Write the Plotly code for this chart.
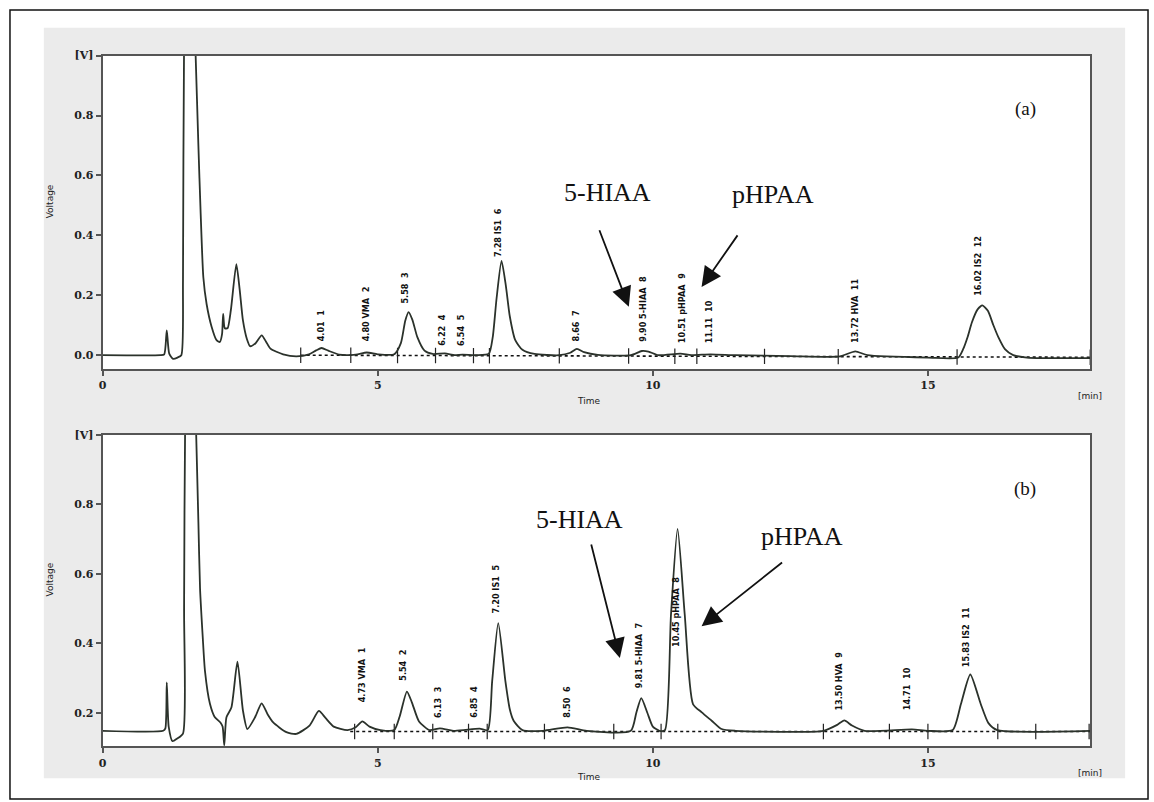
import plotly.graph_objects as go

W, H = 1154, 802

# ---------------- data ----------------
# panel (a): time [min] and detector voltage [V]
time_a = [0, 1.05, 1.12, 1.165, 1.21, 1.28, 1.36, 1.43, 1.46, 1.48, 1.58, 1.69, 1.74, 1.78,
          1.83, 1.89, 1.98, 2.07, 2.13, 2.17, 2.19, 2.22, 2.27, 2.33, 2.43, 2.49, 2.55, 2.62,
          2.68, 2.78, 2.89, 2.97, 3.05, 3.28, 3.52, 3.75, 3.88, 3.98, 4.10, 4.30, 4.60, 4.80,
          5.00, 5.30, 5.42, 5.50, 5.56, 5.63, 5.72, 5.85, 6.00, 6.22, 6.40, 6.54, 6.80, 7.02,
          7.09, 7.16, 7.25, 7.33, 7.40, 7.50, 7.63, 7.85, 8.30, 8.50, 8.62, 8.75, 9.00, 9.60,
          9.80, 9.92, 10.10, 10.50, 10.70, 11.05, 11.50, 12.50, 13.40, 13.68, 13.90, 15.00,
          15.55, 15.64, 15.72, 15.80, 15.90, 15.99, 16.09, 16.19, 16.28, 16.40, 16.55, 16.80, 17.95]
volt_a = [0.0, 0.0, 0.003, 0.083, 0.005, -0.012, -0.008, 0.0, 0.25, 1.05, 1.6, 1.0, 0.70, 0.48,
          0.26, 0.17, 0.095, 0.05, 0.044, 0.07, 0.138, 0.09, 0.09, 0.15, 0.304, 0.22, 0.116, 0.055,
          0.03, 0.04, 0.066, 0.045, 0.022, 0.003, -0.004, 0.003, 0.016, 0.024, 0.015, 0.002, 0.002, 0.009,
          0.003, 0.003, 0.04, 0.115, 0.144, 0.118, 0.06, 0.015, 0.004, 0.006, 0.0, 0.002, 0.0, 0.005,
          0.06, 0.19, 0.315, 0.23, 0.13, 0.05, 0.018, 0.004, 0.0, 0.008, 0.021, 0.01, 0.001, 0.0,
          0.014, 0.012, 0.0, 0.005, 0.0, 0.003, 0.0, -0.003, -0.004, 0.013, 0.0, -0.008,
          -0.008, 0.02, 0.06, 0.11, 0.152, 0.166, 0.148, 0.10, 0.06, 0.02, 0.0, -0.008, -0.01]

# panel (b)
time_b = [0, 1.10, 1.14, 1.165, 1.20, 1.27, 1.35, 1.46, 1.48, 1.50, 1.60, 1.70, 1.74, 1.77,
          1.82, 1.86, 1.95, 2.04, 2.14, 2.18, 2.21, 2.25, 2.34, 2.45, 2.55, 2.63, 2.77, 2.89,
          3.00, 3.10, 3.34, 3.52, 3.76, 3.93, 4.05, 4.20, 4.45, 4.60, 4.72, 4.85, 5.05, 5.30,
          5.40, 5.53, 5.62, 5.75, 5.94, 6.13, 6.40, 6.85, 7.00, 7.08, 7.19, 7.32, 7.40, 7.47,
          7.63, 8.00, 8.45, 8.80, 9.60, 9.70, 9.79, 9.90, 10.00, 10.12, 10.22, 10.33, 10.45,
          10.58, 10.73, 10.89, 11.07, 11.25, 11.50, 13.10, 13.35, 13.48, 13.62, 13.85, 14.71,
          15.00, 15.45, 15.60, 15.77, 15.96, 16.10, 16.26, 17.95]
volt_b = [0.148, 0.148, 0.155, 0.287, 0.16, 0.118, 0.125, 0.14, 0.5, 1.05, 1.6, 1.0, 0.749, 0.558,
          0.415, 0.32, 0.226, 0.187, 0.172, 0.16, 0.106, 0.187, 0.215, 0.347, 0.206, 0.153, 0.187, 0.227,
          0.195, 0.172, 0.144, 0.139, 0.163, 0.205, 0.185, 0.16, 0.15, 0.158, 0.175, 0.16, 0.15, 0.15,
          0.19, 0.261, 0.23, 0.175, 0.15, 0.155, 0.148, 0.154, 0.15, 0.291, 0.458, 0.291, 0.21, 0.177,
          0.15, 0.148, 0.158, 0.148, 0.148, 0.20, 0.242, 0.20, 0.16, 0.148, 0.15, 0.482, 0.729,
          0.482, 0.225, 0.201, 0.177, 0.153, 0.148, 0.148, 0.165, 0.178, 0.163, 0.148, 0.152,
          0.148, 0.15, 0.225, 0.31, 0.225, 0.17, 0.15, 0.148]

# integration baselines and boundary marks
base_time_a = [3.6, 17.95]
base_volt_a = [0.0, -0.007]
marks_a = [3.6, 4.51, 5.36, 6.05, 6.74, 7.03, 8.3, 9.56, 10.4, 10.8, 12.03, 13.37, 15.53, 17.95]
base_time_b = [4.5, 17.95]
base_volt_b = [0.146, 0.146]
marks_b = [4.58, 5.3, 6.0, 6.65, 6.99, 8.03, 9.29, 10.15, 13.1, 14.3, 15.0, 16.27, 16.96, 17.93]

# peak labels: text, label time, label foot voltage
peak_text_a = ["4.01  1", "4.80 VMA  2", "5.58  3", "6.22  4", "6.54  5", "7.28 IS1  6",
               "8.66  7", "9.90 5-HIAA  8", "10.51 pHPAA  9", "11.11  10", "13.72 HVA  11",
               "16.02 IS2  12"]
peak_time_a = [3.97, 4.78, 5.50, 6.17, 6.50, 7.19, 8.60, 9.83, 10.52, 11.02, 13.66, 15.92]
peak_foot_a = [0.04, 0.04, 0.165, 0.025, 0.025, 0.32, 0.04, 0.04, 0.035, 0.035, 0.035, 0.19]

peak_text_b = ["4.73 VMA  1", "5.54  2", "6.13  3", "6.85  4", "7.20 IS1  5", "8.50  6",
               "9.81 5-HIAA  7", "10.45 pHPAA  8", "13.50 HVA  9", "14.71  10", "15.83 IS2  11"]
peak_time_b = [4.71, 5.46, 6.09, 6.75, 7.14, 8.44, 9.74, 10.43, 13.39, 14.62, 15.69]
peak_foot_b = [0.225, 0.285, 0.18, 0.18, 0.48, 0.18, 0.265, 0.385, 0.2, 0.2, 0.325]

yticks_a = [0.0, 0.2, 0.4, 0.6, 0.8, 1.0]
yticklabels_a = ["0.0", "0.2", "0.4", "0.6", "0.8", "[V]"]
yticks_b = [0.2, 0.4, 0.6, 0.8, 1.0]
yticklabels_b = ["0.2", "0.4", "0.6", "0.8", "[V]"]
xticks = [0, 5, 10, 15]
xticklabels = ["0", "5", "10", "15"]


# ---------------- layout helpers (pixel -> paper) ----------------
def PX(x):
    return x / W


def PY(y):
    return 1 - y / H


LINE_COL = "#2b322b"
AX_COL = "#555555"
tickfont = dict(family="DejaVu Serif", size=11, color="#222", weight="bold")

fig = go.Figure()

for tt, vv, bt, bv, mk, xa, ya in [
    (time_a, volt_a, base_time_a, base_volt_a, marks_a, "x", "y"),
    (time_b, volt_b, base_time_b, base_volt_b, marks_b, "x2", "y2"),
]:
    fig.add_trace(go.Scatter(x=bt, y=bv, mode="lines", xaxis=xa, yaxis=ya,
                             line=dict(color="#111", width=1.6, dash="dot"),
                             hoverinfo="skip", showlegend=False))
    base_at = [bv[0] + (bv[1] - bv[0]) * (m - bt[0]) / (bt[1] - bt[0]) for m in mk]
    fig.add_trace(go.Scatter(x=mk, y=base_at, mode="markers", xaxis=xa, yaxis=ya,
                             marker=dict(symbol="line-ns", size=11,
                                         line=dict(color="#222", width=1.2)),
                             hoverinfo="skip", showlegend=False))
    fig.add_trace(go.Scatter(x=tt, y=vv, mode="lines", xaxis=xa, yaxis=ya,
                             line=dict(color=LINE_COL, width=1.8, shape="spline", smoothing=0.6),
                             showlegend=False))

xdom = [PX(99), PX(1090)]
axis_common = dict(showline=True, linecolor=AX_COL, linewidth=2, mirror=True,
                   showgrid=False, zeroline=False, ticks="outside", ticklen=5,
                   tickcolor=AX_COL, tickwidth=1.5, tickfont=tickfont)

fig.update_layout(
    width=W, height=H,
    margin=dict(l=0, r=0, t=0, b=0),
    paper_bgcolor="white", plot_bgcolor="white",
    showlegend=False,
    xaxis=dict(domain=xdom, range=[0, 17.95], anchor="y", tickvals=xticks,
               ticktext=xticklabels, **axis_common),
    yaxis=dict(domain=[PY(366), PY(50)], range=[-0.047, 1.0], anchor="x",
               tickvals=yticks_a, ticktext=yticklabels_a, **axis_common),
    xaxis2=dict(domain=xdom, range=[0, 17.95], anchor="y2", tickvals=xticks,
                ticktext=xticklabels, **axis_common),
    yaxis2=dict(domain=[PY(746), PY(432)], range=[0.103, 1.0], anchor="x2",
                tickvals=yticks_b, ticktext=yticklabels_b, **axis_common),
)

# backgrounds: grey board, white plot areas, outer frame
shapes = [
    dict(type="rect", xref="paper", yref="paper", x0=PX(40), x1=PX(1125), y0=PY(778), y1=PY(22),
         fillcolor="#ebebeb", line=dict(width=0), layer="below"),
    dict(type="rect", xref="paper", yref="paper", x0=PX(99), x1=PX(1090), y0=PY(366), y1=PY(50),
         fillcolor="white", line=dict(width=0), layer="below"),
    dict(type="rect", xref="paper", yref="paper", x0=PX(99), x1=PX(1090), y0=PY(746), y1=PY(432),
         fillcolor="white", line=dict(width=0), layer="below"),
    dict(type="rect", xref="paper", yref="paper", x0=PX(6), x1=PX(1148), y0=PY(799), y1=PY(4),
         fillcolor="rgba(0,0,0,0)", line=dict(color="#111", width=1.5), layer="above"),
]
fig.update_layout(shapes=shapes)

ann = []
lab_font = dict(family="DejaVu Sans Condensed", size=9, color="#111", weight="bold")
for texts, times, feet, xa, ya in [(peak_text_a, peak_time_a, peak_foot_a, "x", "y"),
                                   (peak_text_b, peak_time_b, peak_foot_b, "x2", "y2")]:
    for s, t, v in zip(texts, times, feet):
        ann.append(dict(x=t, y=v, xref=xa, yref=ya, text=s, textangle=-90, showarrow=False,
                        xanchor="center", yanchor="bottom", font=lab_font))

big = dict(family="Liberation Serif", size=26, color="#111")
for s, x, y in [("5-HIAA", 606, 188), ("pHPAA", 772, 190), ("5-HIAA", 578, 517), ("pHPAA", 801, 534)]:
    ann.append(dict(x=PX(x), y=PY(y), xref="paper", yref="paper", text=s, showarrow=False,
                    xanchor="center", yanchor="middle", font=big))
for s, x, y in [("(a)", 1025, 104), ("(b)", 1025, 487)]:
    ann.append(dict(x=PX(x), y=PY(y), xref="paper", yref="paper", text=s, showarrow=False,
                    xanchor="center", yanchor="middle",
                    font=dict(family="Liberation Serif", size=19, color="#111")))

# arrows: tip position and tail offset in px
for tipx, tipy, tailx, taily in [(627, 303, 597, 225), (700, 283, 737, 230),
                                 (618, 657, 589, 542), (700, 625, 782, 560)]:
    ann.append(dict(x=PX(tipx), y=PY(tipy), xref="paper", yref="paper", text="",
                    showarrow=True, ax=tailx - tipx, ay=taily - tipy, axref="pixel", ayref="pixel",
                    arrowhead=2, arrowsize=2.2, arrowwidth=1.8, arrowcolor="#111", standoff=0))

small = dict(family="DejaVu Sans", size=9, color="#222")
for s, x, y, ang in [("Voltage", 46, 197, -90), ("Voltage", 46, 578, -90),
                     ("Time", 587, 398, 0), ("Time", 587, 777, 0),
                     ("[min]", 1090, 393, 0), ("[min]", 1090, 773, 0)]:
    ann.append(dict(x=PX(x), y=PY(y), xref="paper", yref="paper", text=s, showarrow=False,
                    textangle=ang, xanchor="center", yanchor="middle", font=small))

fig.update_layout(annotations=ann)
fig.write_html("out.html", config={"displayModeBar": False},
               post_script="document.body.style.margin='0';document.body.style.overflow='hidden';")
